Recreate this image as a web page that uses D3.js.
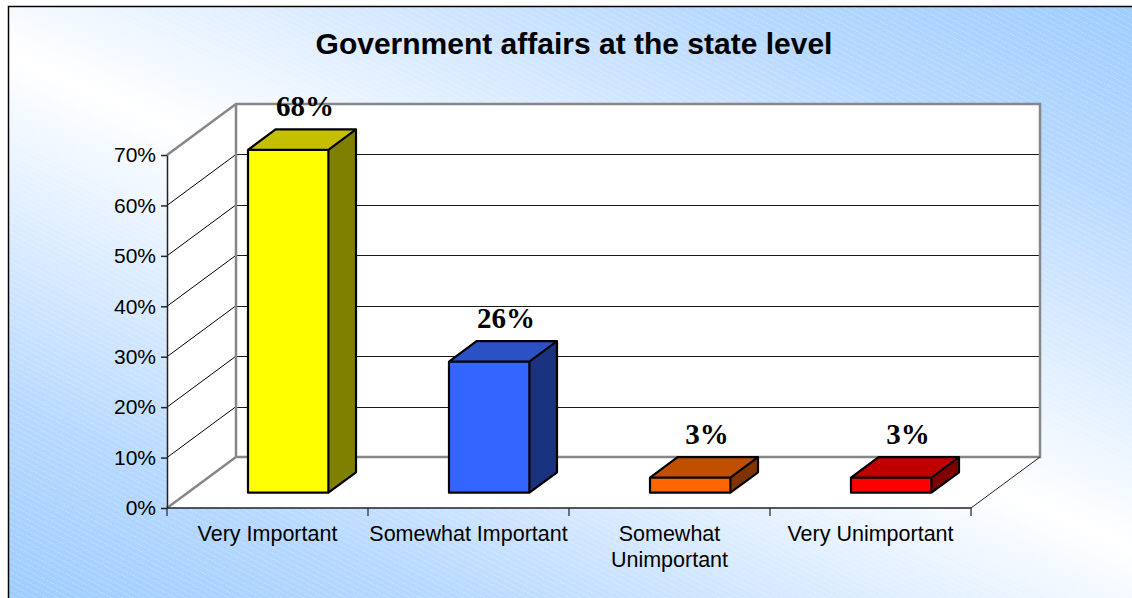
<!DOCTYPE html>
<html>
<head>
<meta charset="utf-8">
<script src="https://cdn.jsdelivr.net/npm/d3@7"></script>
<style>
  html, body { margin: 0; padding: 0; background: #ffffff; }
  svg { display: block; }
</style>
</head>
<body>
<svg id="chart" width="1132" height="598"></svg>
<script>
// Survey results: importance of government affairs at the state level
const categories = ["Very Important", "Somewhat Important", "Somewhat Unimportant", "Very Unimportant"];
const values = [0.68, 0.26, 0.03, 0.03];
const valueLabels = ["68%", "26%", "3%", "3%"];
const yTicks = [0, 0.1, 0.2, 0.3, 0.4, 0.5, 0.6, 0.7];
const titleText = "Government affairs at the state level";

// face colours per bar: front, top, side
const barColors = [
  { front: "#ffff00", top: "#c4c000", side: "#808000" },
  { front: "#3366ff", top: "#2a52c4", side: "#1a3380" },
  { front: "#ff6600", top: "#c05000", side: "#803300" },
  { front: "#ff0000", top: "#c00000", side: "#800000" }
];

const W = 1132, H = 598;
const svg = d3.select("#chart");
const defs = svg.append("defs");

// background: blue at two opposite corners, white band across the middle
const bg = defs.append("linearGradient")
  .attr("id", "bgGrad")
  .attr("gradientUnits", "userSpaceOnUse")
  .attr("x1", 820).attr("y1", -280).attr("x2", 312).attr("y2", 878);
bg.append("stop").attr("offset", "0").attr("stop-color", "#8cc3ff");
bg.append("stop").attr("offset", "0.25").attr("stop-color", "#b8d9ff");
bg.append("stop").attr("offset", "0.5").attr("stop-color", "#ffffff");
bg.append("stop").attr("offset", "0.75").attr("stop-color", "#b8d9ff");
bg.append("stop").attr("offset", "1").attr("stop-color", "#8cc3ff");

// faint diagonal hatching over the background
const hatch = defs.append("pattern")
  .attr("id", "hatch")
  .attr("patternUnits", "userSpaceOnUse")
  .attr("width", 10).attr("height", 5)
  .attr("patternTransform", "rotate(28)");
hatch.append("line")
  .attr("x1", 0).attr("y1", 0.5).attr("x2", 10).attr("y2", 0.5)
  .attr("stroke", "#ffffff").attr("stroke-width", 0.8)
  .attr("stroke-dasharray", "2 1.5").attr("stroke-opacity", 0.35);

svg.append("rect").attr("x", 0).attr("y", 0).attr("width", W).attr("height", H).attr("fill", "#ffffff");
svg.append("rect").attr("x", 8.5).attr("y", 6.5).attr("width", W + 10).attr("height", H + 10)
  .attr("fill", "url(#bgGrad)");
svg.append("rect").attr("x", 8.5).attr("y", 6.5).attr("width", W + 10).attr("height", H + 10)
  .attr("fill", "url(#hatch)");
svg.append("rect").attr("x", 8.5).attr("y", 6.5).attr("width", W + 10).attr("height", H + 10)
  .attr("fill", "none").attr("stroke", "#000000").attr("stroke-width", 1.5);

// title
svg.append("text")
  .attr("x", 574).attr("y", 54)
  .attr("text-anchor", "middle")
  .attr("font-family", "'Liberation Sans', Arial, sans-serif")
  .attr("font-weight", "bold")
  .attr("font-size", 30)
  .attr("fill", "#000000")
  .text(titleText);

// plot frame (front plane) and depth offset for the 3-D walls
const x0 = 167, x1 = 971, yBottom = 508, yTop = 155;
const depthX = 69, depthY = -51;

const x = d3.scaleBand().domain(categories).range([x0, x1]).paddingInner(0).paddingOuter(0);
const y = d3.scaleLinear().domain([0, 0.7]).range([yBottom, yTop]);

const yMax = y(0.7);
const back = (px, py) => [px + depthX, py + depthY];

const g = svg.append("g");

// walls
const wallFill = "#ffffff";
// side wall
g.append("path")
  .attr("d", d3.line()([[x0, y(0)], [x0, yMax], back(x0, yMax), back(x0, y(0))]) + "Z")
  .attr("fill", wallFill);
// floor
g.append("path")
  .attr("d", d3.line()([[x0, y(0)], [x1, y(0)], back(x1, y(0)), back(x0, y(0))]) + "Z")
  .attr("fill", wallFill);
// back wall
g.append("rect")
  .attr("x", x0 + depthX).attr("y", yMax + depthY)
  .attr("width", x1 - x0).attr("height", y(0) - yMax)
  .attr("fill", wallFill);

// gridlines on the back wall and side wall
const gridTicks = yTicks.filter(t => t > 0 && t < 0.7);
g.selectAll("line.grid-back").data(gridTicks).join("line")
  .attr("class", "grid-back")
  .attr("x1", x0 + depthX).attr("x2", x1 + depthX)
  .attr("y1", d => Math.round(y(d) + depthY) + 0.5)
  .attr("y2", d => Math.round(y(d) + depthY) + 0.5)
  .attr("stroke", "#1a1a1a").attr("stroke-width", 1);
g.selectAll("line.grid-side").data(gridTicks).join("line")
  .attr("class", "grid-side")
  .attr("x1", x0).attr("y1", d => y(d))
  .attr("x2", x0 + depthX).attr("y2", d => y(d) + depthY)
  .attr("stroke", "#000000").attr("stroke-width", 1);

// wall borders (grey)
const wallStroke = "#878787";
g.append("path")
  .attr("d", d3.line()([[x0, yMax], back(x0, yMax), back(x1, yMax), back(x1, y(0)), back(x0, y(0)), [x0, y(0)]]))
  .attr("fill", "none").attr("stroke", wallStroke).attr("stroke-width", 2.5)
  .attr("stroke-linejoin", "miter");
g.append("line")
  .attr("x1", x0 + depthX).attr("y1", yMax + depthY)
  .attr("x2", x0 + depthX).attr("y2", y(0) + depthY)
  .attr("stroke", wallStroke).attr("stroke-width", 2.5);
// floor right edge
g.append("line")
  .attr("x1", x1).attr("y1", y(0))
  .attr("x2", x1 + depthX).attr("y2", y(0) + depthY)
  .attr("stroke", "#222222").attr("stroke-width", 1);

// 3-D bars: sit in the middle of the depth
const zFront = 0.3, zBack = 0.7;
const barW = x.bandwidth() * 0.4;
const bars = g.selectAll("g.bar").data(values).join("g").attr("class", "bar");

function barGeom(v, i) {
  const cx = x(categories[i]) + x.bandwidth() / 2 + depthX * zFront;
  const fx0 = cx - barW / 2, fx1 = cx + barW / 2;
  const fyB = y(0) + depthY * zFront;
  const fyT = y(v) + depthY * zFront;
  const ddx = depthX * (zBack - zFront), ddy = depthY * (zBack - zFront);
  return { fx0, fx1, fyB, fyT, ddx, ddy };
}

bars.append("path")
  .attr("d", (v, i) => {
    const b = barGeom(v, i);
    return d3.line()([[b.fx0, b.fyT], [b.fx1, b.fyT], [b.fx1 + b.ddx, b.fyT + b.ddy], [b.fx0 + b.ddx, b.fyT + b.ddy]]) + "Z";
  })
  .attr("fill", (v, i) => barColors[i].top);
bars.append("path")
  .attr("d", (v, i) => {
    const b = barGeom(v, i);
    return d3.line()([[b.fx1, b.fyT], [b.fx1 + b.ddx, b.fyT + b.ddy], [b.fx1 + b.ddx, b.fyB + b.ddy], [b.fx1, b.fyB]]) + "Z";
  })
  .attr("fill", (v, i) => barColors[i].side);
bars.append("path")
  .attr("d", (v, i) => {
    const b = barGeom(v, i);
    return d3.line()([[b.fx0, b.fyT], [b.fx1, b.fyT], [b.fx1, b.fyB], [b.fx0, b.fyB]]) + "Z";
  })
  .attr("fill", (v, i) => barColors[i].front);
// outline
bars.append("path")
  .attr("d", (v, i) => {
    const b = barGeom(v, i);
    return d3.line()([[b.fx0, b.fyB], [b.fx0, b.fyT], [b.fx0 + b.ddx, b.fyT + b.ddy], [b.fx1 + b.ddx, b.fyT + b.ddy],
      [b.fx1 + b.ddx, b.fyB + b.ddy], [b.fx1, b.fyB]]) + "Z"
      + "M" + b.fx0 + "," + b.fyT + "L" + b.fx1 + "," + b.fyT + "L" + b.fx1 + "," + b.fyB
      + "M" + b.fx1 + "," + b.fyT + "L" + (b.fx1 + b.ddx) + "," + (b.fyT + b.ddy);
  })
  .attr("fill", "none").attr("stroke", "#000000").attr("stroke-width", 2.2)
  .attr("stroke-linejoin", "round");

// value labels above each bar
bars.append("text")
  .attr("x", (v, i) => { const b = barGeom(v, i); return (b.fx0 + b.fx1) / 2 + b.ddx / 2 + 3; })
  .attr("y", (v, i) => { const b = barGeom(v, i); return b.fyT + b.ddy - 13; })
  .attr("text-anchor", "middle")
  .attr("font-family", "'Liberation Serif', 'Times New Roman', serif")
  .attr("font-weight", "bold")
  .attr("font-size", 29)
  .attr("fill", "#000000")
  .text((v, i) => valueLabels[i]);

// value axis
const yAxis = d3.axisLeft(y).tickValues(yTicks).tickFormat(d3.format(".0%")).tickSize(6).tickSizeOuter(0);
const yAxisG = svg.append("g").attr("transform", `translate(${x0},0)`).call(yAxis);
yAxisG.select(".domain").attr("stroke", "#222222").attr("stroke-width", 1.5);
yAxisG.selectAll(".tick line").attr("stroke", "#222222").attr("stroke-width", 1.5);
yAxisG.selectAll(".tick text")
  .attr("x", -11)
  .attr("font-family", "'Liberation Sans', Arial, sans-serif")
  .attr("font-size", 21)
  .attr("fill", "#000000");

// category axis along the front edge of the floor
const xAxisG = svg.append("g");
xAxisG.append("line")
  .attr("x1", x0).attr("x2", x1).attr("y1", y(0)).attr("y2", y(0))
  .attr("stroke", "#222222").attr("stroke-width", 1.5);
const boundaries = categories.map(c => x(c)).concat([x1]);
xAxisG.selectAll("line.xtick").data(boundaries).join("line")
  .attr("class", "xtick")
  .attr("x1", d => d).attr("x2", d => d)
  .attr("y1", y(0)).attr("y2", y(0) + 8)
  .attr("stroke", "#222222").attr("stroke-width", 1.2);

const catText = xAxisG.selectAll("text.cat").data(categories).join("text")
  .attr("class", "cat")
  .attr("x", d => x(d) + x.bandwidth() / 2)
  .attr("y", 541)
  .attr("text-anchor", "middle")
  .attr("font-family", "'Liberation Sans', Arial, sans-serif")
  .attr("font-size", 21.5)
  .attr("fill", "#000000");

// wrap category names to the band width
catText.each(function (d) {
  const t = d3.select(this);
  const words = d.split(" ");
  const cx = x(d) + x.bandwidth() / 2;
  let line = [];
  let tspan = t.append("tspan").attr("x", cx).attr("dy", 0);
  words.forEach(w => {
    line.push(w);
    tspan.text(line.join(" "));
    if (tspan.node().getComputedTextLength() > x.bandwidth() - 2 && line.length > 1) {
      line.pop();
      tspan.text(line.join(" "));
      line = [w];
      tspan = t.append("tspan").attr("x", cx).attr("dy", 26).text(w);
    }
  });
});
</script>
</body>
</html>
